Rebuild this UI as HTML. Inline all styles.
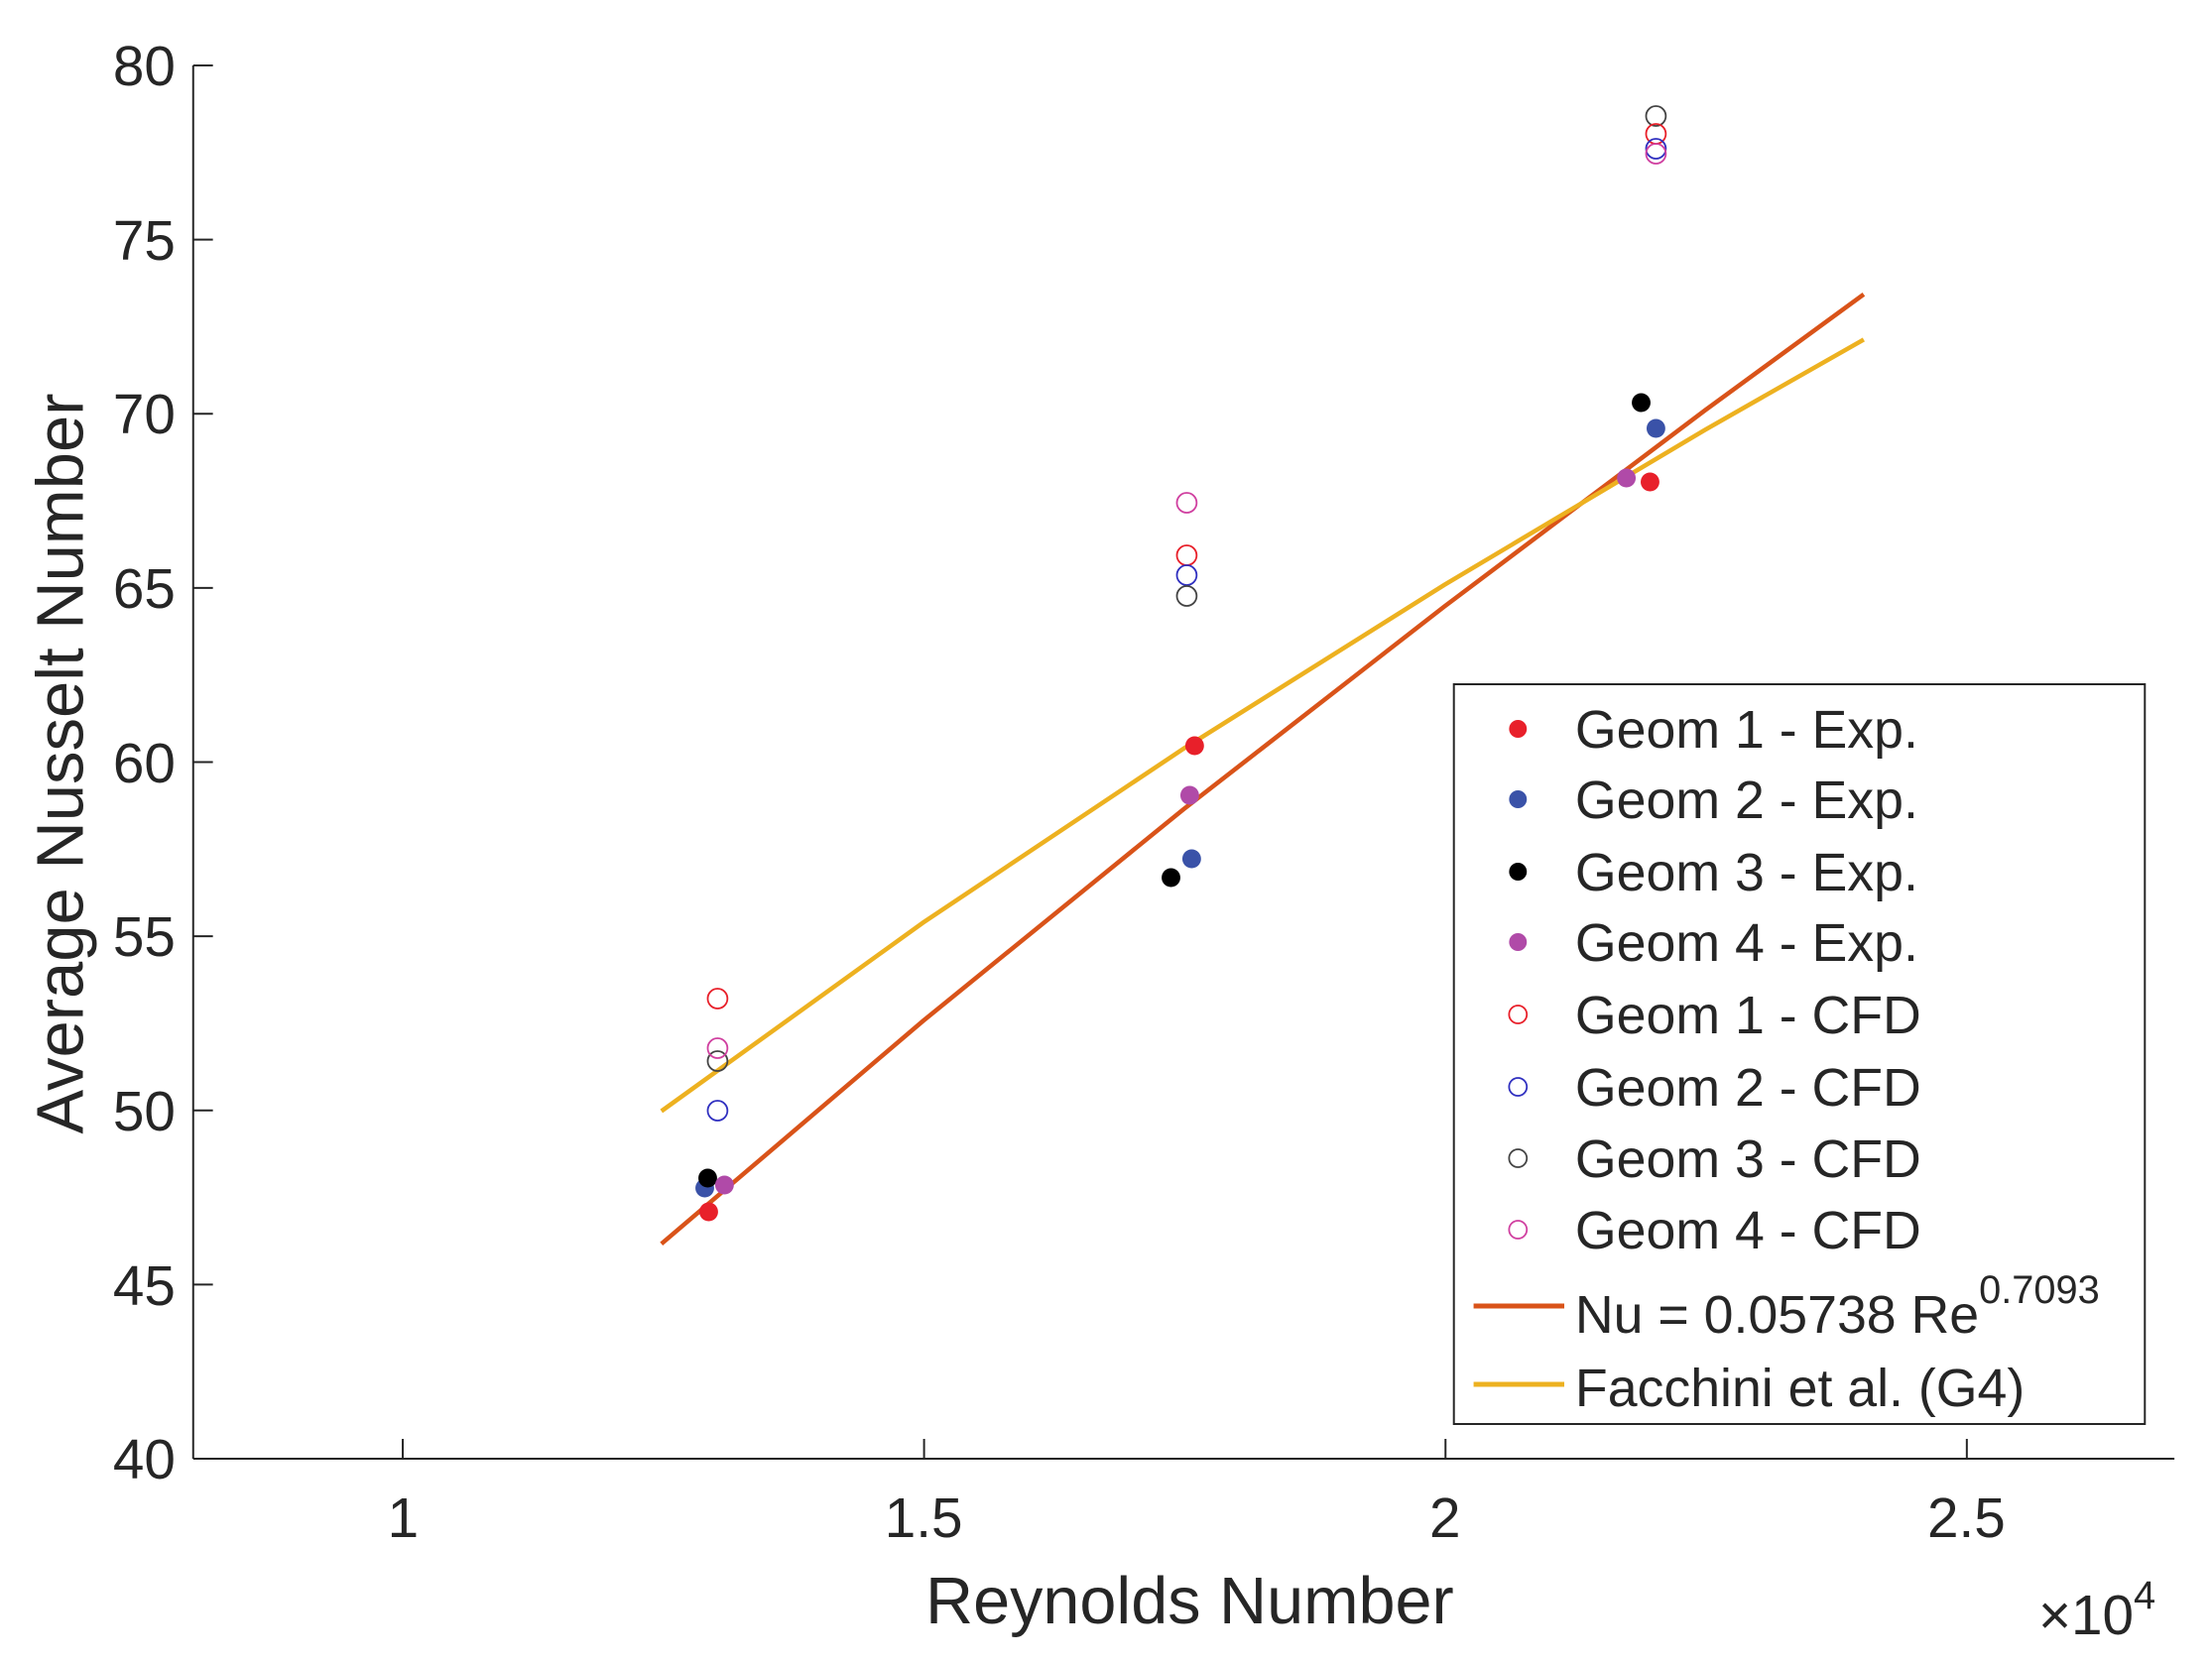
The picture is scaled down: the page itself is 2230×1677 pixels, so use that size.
<!DOCTYPE html>
<html><head><meta charset="utf-8"><style>html,body{margin:0;padding:0;background:#fff}svg{display:block}text{font-family:"Liberation Sans",sans-serif;fill:#262626}</style></head><body>
<svg width="2230" height="1677" viewBox="0 0 2230 1677" xmlns="http://www.w3.org/2000/svg">
<g transform="scale(0.9937,1)">
<g stroke="#262626" stroke-width="2" fill="none">
<line x1="196" y1="66" x2="196" y2="1471"/>
<line x1="196" y1="1471" x2="2206" y2="1471"/>
<line x1="196" y1="66" x2="216" y2="66"/><line x1="196" y1="241.6" x2="216" y2="241.6"/><line x1="196" y1="417.3" x2="216" y2="417.3"/><line x1="196" y1="592.9" x2="216" y2="592.9"/><line x1="196" y1="768.5" x2="216" y2="768.5"/><line x1="196" y1="944.1" x2="216" y2="944.1"/><line x1="196" y1="1119.8" x2="216" y2="1119.8"/><line x1="196" y1="1295.4" x2="216" y2="1295.4"/>
<line x1="408.6" y1="1471" x2="408.6" y2="1451"/><line x1="937.5" y1="1471" x2="937.5" y2="1451"/><line x1="1466.5" y1="1471" x2="1466.5" y2="1451"/><line x1="1995.4" y1="1471" x2="1995.4" y2="1451"/>
</g>
<g font-size="57" text-anchor="end">
<text x="178" y="86">80</text><text x="178" y="262">75</text><text x="178" y="437">70</text><text x="178" y="613">65</text><text x="178" y="789">60</text><text x="178" y="964">55</text><text x="178" y="1140">50</text><text x="178" y="1316">45</text><text x="178" y="1491">40</text>
</g>
<g font-size="57" text-anchor="middle">
<text x="409" y="1550">1</text><text x="937" y="1550">1.5</text><text x="1466" y="1550">2</text><text x="1995" y="1550">2.5</text>
<text x="1207" y="1637" font-size="67">Reynolds Number</text>
<text transform="translate(84,770) rotate(-90)" font-size="67">Average Nusselt Number</text>
</g>
<text x="2068" y="1648" font-size="57">×10<tspan font-size="40" dy="-26">4</tspan></text>

<polyline fill="none" stroke="#d95319" stroke-width="4.5" points="671,1254.3 936.5,1029.5 1201,815.9 1465.5,611.5 1729.9,413.7 1890.8,296.8"/>
<polyline fill="none" stroke="#edb120" stroke-width="4.5" points="671,1120.5 936.5,930.4 1201,754.8 1465.5,589.7 1729.9,433.4 1890.8,342.4"/>

<g stroke="none">
<circle cx="715" cy="1198" r="9.5" fill="#3a52a8"/><circle cx="718" cy="1188" r="9.5" fill="#000"/><circle cx="735" cy="1195" r="9.5" fill="#b04aa8"/><circle cx="719" cy="1222" r="9.5" fill="#e8202a"/>
<circle cx="1212" cy="752" r="9.5" fill="#e8202a"/><circle cx="1207" cy="802" r="9.5" fill="#b04aa8"/><circle cx="1209" cy="866" r="9.5" fill="#3a52a8"/><circle cx="1188" cy="885" r="9.5" fill="#000"/>
<circle cx="1665" cy="406" r="9.5" fill="#000"/><circle cx="1680" cy="432" r="9.5" fill="#3a52a8"/><circle cx="1650" cy="482" r="9.5" fill="#b04aa8"/><circle cx="1674" cy="486" r="9.5" fill="#e8202a"/>
</g>
<g fill="none" stroke-width="1.8">
<circle cx="728" cy="1007" r="10" stroke="#e8202a"/><circle cx="728" cy="1070" r="10" stroke="#444"/><circle cx="728" cy="1057" r="10" stroke="#d040a0"/><circle cx="728" cy="1120" r="10" stroke="#3030c0"/>
<circle cx="1204" cy="507" r="10" stroke="#d040a0"/><circle cx="1204" cy="560" r="10" stroke="#e8202a"/><circle cx="1204" cy="580" r="10" stroke="#3030c0"/><circle cx="1204" cy="601" r="10" stroke="#444"/>
<circle cx="1680" cy="117" r="10" stroke="#444"/><circle cx="1680" cy="135" r="10" stroke="#e8202a"/><circle cx="1680" cy="150" r="10" stroke="#3030c0"/><circle cx="1680" cy="155" r="10" stroke="#d040a0"/>
</g>

<rect x="1475" y="690" width="701" height="746" fill="#fff" stroke="#262626" stroke-width="2"/>
<circle cx="1540" cy="735" r="9" fill="#e8202a"/>
<circle cx="1540" cy="806" r="9" fill="#3a52a8"/>
<circle cx="1540" cy="879" r="9" fill="#000"/>
<circle cx="1540" cy="950" r="9" fill="#b04aa8"/>
<circle cx="1540" cy="1023" r="9" fill="none" stroke="#e8202a" stroke-width="1.8"/>
<circle cx="1540" cy="1096" r="9" fill="none" stroke="#3030c0" stroke-width="1.8"/>
<circle cx="1540" cy="1168" r="9" fill="none" stroke="#444" stroke-width="1.8"/>
<circle cx="1540" cy="1240" r="9" fill="none" stroke="#d040a0" stroke-width="1.8"/>
<line x1="1495" y1="1317" x2="1587" y2="1317" stroke="#d95319" stroke-width="5"/>
<line x1="1495" y1="1396" x2="1587" y2="1396" stroke="#edb120" stroke-width="5"/>
<g font-size="54">
<text x="1598" y="754">Geom 1 - Exp.</text>
<text x="1598" y="825">Geom 2 - Exp.</text>
<text x="1598" y="898">Geom 3 - Exp.</text>
<text x="1598" y="969">Geom 4 - Exp.</text>
<text x="1598" y="1042">Geom 1 - CFD</text>
<text x="1598" y="1115">Geom 2 - CFD</text>
<text x="1598" y="1187">Geom 3 - CFD</text>
<text x="1598" y="1259">Geom 4 - CFD</text>
<text x="1598" y="1344">Nu = 0.05738 Re<tspan font-size="40" dy="-30">0.7093</tspan></text>
<text x="1598" y="1418">Facchini et al. (G4)</text>
</g>
</g>
</svg>
</body></html>
